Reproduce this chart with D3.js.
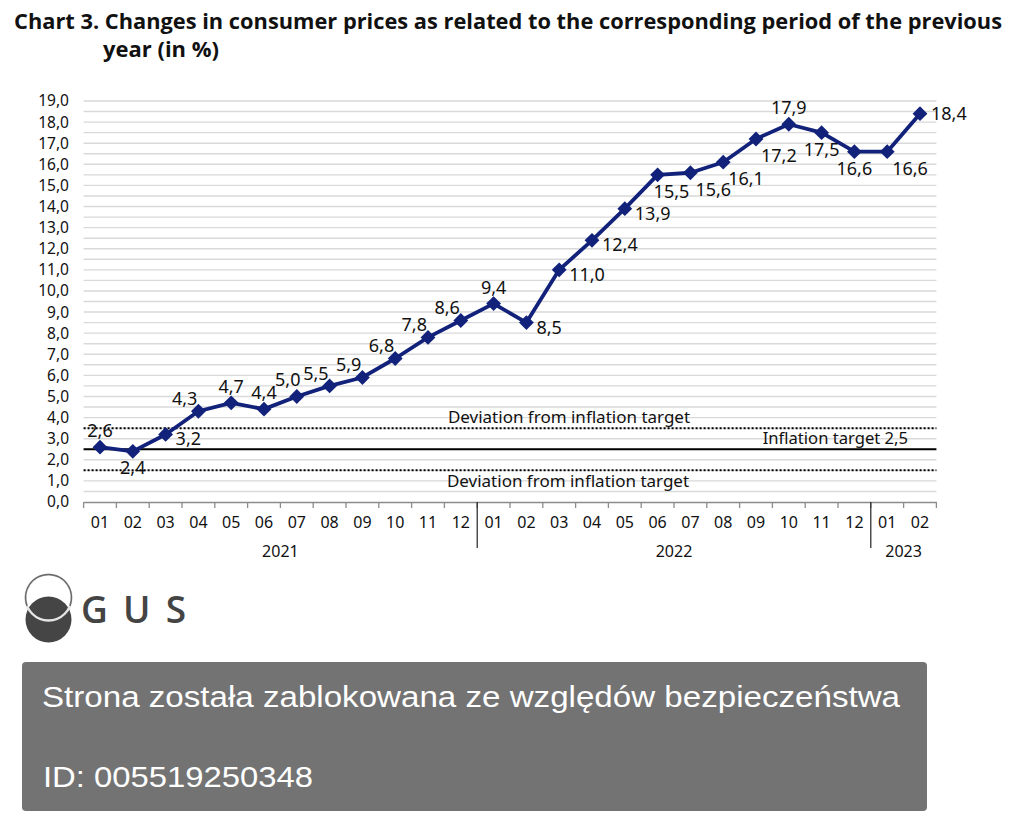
<!DOCTYPE html>
<html><head><meta charset="utf-8">
<script src="https://cdn.jsdelivr.net/npm/d3@7"></script>
<style>
html,body{margin:0;padding:0;background:#fff;}
svg{display:block;}
</style></head>
<body>
<svg id="chart" width="1009" height="826"></svg>
<script>
const months = ["01","02","03","04","05","06","07","08","09","10","11","12",
                "01","02","03","04","05","06","07","08","09","10","11","12",
                "01","02"];
const years = ["2021","2022","2023"];
const yearStart = [0, 12, 24];
const yearEnd = [11, 23, 25];
const cpi = [2.6,2.4,3.2,4.3,4.7,4.4,5.0,5.5,5.9,6.8,7.8,8.6,
             9.4,8.5,11.0,12.4,13.9,15.5,15.6,16.1,17.2,17.9,17.5,16.6,
             16.6,18.4];
const labelPos = ["above","below","right","aboveLeft","above","above","aboveL","aboveLeft","aboveLeft","aboveLeft","aboveLeft","aboveLeft",
                  "above","right","right","right","right","belowR0","belowRight","belowRight","belowRight","above","below","below",
                  "belowRight","rightMid"];
const yTicks = d3.range(0, 20, 1);
const gridTicks = d3.range(0.5, 19.01, 0.5);
const target = 2.5;
const deviationUpper = 3.5;
const deviationLower = 1.5;

const svg = d3.select("#chart");
const fmt = v => d3.format(".1f")(v).replace(".", ",");

// Title
svg.append("text").attr("x", 14).attr("y", 29)
  .attr("font-family", "'Open Sans', sans-serif").attr("font-weight", 700).attr("font-size", 21)
  .attr("fill", "#111").attr("textLength", 988).attr("lengthAdjust", "spacingAndGlyphs")
  .text("Chart 3. Changes in consumer prices as related to the corresponding period of the previous");
svg.append("text").attr("x", 103).attr("y", 57)
  .attr("font-family", "'Open Sans', sans-serif").attr("font-weight", 700).attr("font-size", 21)
  .attr("fill", "#111").attr("textLength", 116).attr("lengthAdjust", "spacingAndGlyphs")
  .text("year (in %)");

const x = d3.scaleBand().domain(d3.range(cpi.length)).range([83.6, 936.4]);
const y = d3.scaleLinear().domain([0, 19]).range([502, 101]);
const cx = i => x(i) + x.bandwidth() / 2;
const font = "'Noto Sans', 'Open Sans', sans-serif";

// gridlines
svg.append("g").selectAll("line").data(gridTicks).join("line")
  .attr("x1", 83.6).attr("x2", 936.4)
  .attr("y1", d => y(d)).attr("y2", d => y(d))
  .attr("stroke", "#d9d9d9").attr("stroke-width", 1.4);

// y axis labels
const yAxis = d3.axisLeft(y).tickValues(yTicks).tickFormat(fmt).tickSize(0).tickPadding(0);
const yg = svg.append("g").attr("transform", "translate(69,0)").call(yAxis);
yg.select(".domain").remove();
yg.selectAll("text").attr("font-family", font).attr("font-size", 15.5).attr("fill", "#111");

// x axis
const xAxis = d3.axisBottom(x).tickFormat(i => months[i]).tickSize(0).tickPadding(15);
const xg = svg.append("g").attr("transform", "translate(0,502)").call(xAxis);
xg.select(".domain").attr("stroke", "#8c8c8c").attr("stroke-width", 1.3);
xg.selectAll("text").attr("font-family", font).attr("font-size", 16).attr("fill", "#111");
// boundary ticks
const bounds = d3.range(cpi.length + 1).map(i => i < cpi.length ? x(i) : x(cpi.length - 1) + x.bandwidth());
svg.append("g").selectAll("line").data(bounds).join("line")
  .attr("x1", d => d).attr("x2", d => d).attr("y1", 502).attr("y2", 508)
  .attr("stroke", "#8c8c8c").attr("stroke-width", 1.3);
// year separators
svg.append("g").selectAll("line").data(yearStart.slice(1)).join("line")
  .attr("x1", d => x(d)).attr("x2", d => x(d)).attr("y1", 502).attr("y2", 548)
  .attr("stroke", "#222").attr("stroke-width", 1.2);
// year labels
svg.append("g").selectAll("text").data(years).join("text")
  .attr("x", (d, k) => (cx(yearStart[k]) + cx(yearEnd[k])) / 2)
  .attr("y", 557).attr("text-anchor", "middle")
  .attr("font-family", font).attr("font-size", 16).attr("fill", "#111").text(d => d);

// target & deviation lines
svg.append("line").attr("x1", 83.6).attr("x2", 936.4).attr("y1", y(target)).attr("y2", y(target))
  .attr("stroke", "#000").attr("stroke-width", 2.2);
[deviationUpper, deviationLower].forEach(v => {
  svg.append("line").attr("x1", 83.6).attr("x2", 936.4).attr("y1", y(v)).attr("y2", y(v))
    .attr("stroke", "#000").attr("stroke-width", 2).attr("stroke-dasharray", "2,2");
});
svg.append("text").attr("x", 569).attr("y", y(deviationUpper) - 5).attr("text-anchor", "middle")
  .attr("font-family", font).attr("font-size", 17).attr("fill", "#111").text("Deviation from inflation target");
svg.append("text").attr("x", 568).attr("y", y(deviationLower) + 17).attr("text-anchor", "middle")
  .attr("font-family", font).attr("font-size", 17).attr("fill", "#111").text("Deviation from inflation target");
svg.append("text").attr("x", 908).attr("y", y(target) - 5).attr("text-anchor", "end")
  .attr("font-family", font).attr("font-size", 16.6).attr("fill", "#111").text("Inflation target 2,5");

// series line
const navy = "#12227a";
svg.append("path").datum(cpi)
  .attr("d", d3.line().x((d, i) => cx(i)).y(d => y(d)))
  .attr("fill", "none").attr("stroke", navy).attr("stroke-width", 3.8).attr("stroke-linejoin", "round");
svg.append("g").selectAll("path").data(cpi).join("path")
  .attr("d", d3.symbol(d3.symbolDiamond2, 140))
  .attr("transform", (d, i) => `translate(${cx(i)},${y(d)})`)
  .attr("fill", navy);

// labels: [dx, baseline dy, anchor]
const off = {
  above: [0, -10, "middle"], below: [0, 23, "middle"], right: [10, 11, "start"],
  rightMid: [11, 6, "start"],
  belowRight: [5, 23, "start"], belowR0: [-4, 23, "start"],
  aboveLeft: [-1, -6, "end"], aboveL: [-9, -10, "middle"]
};
svg.append("g").selectAll("text").data(cpi).join("text")
  .attr("x", (d, i) => cx(i) + off[labelPos[i]][0])
  .attr("y", (d, i) => y(d) + off[labelPos[i]][1])
  .attr("text-anchor", (d, i) => off[labelPos[i]][2])
  .attr("font-family", font).attr("font-size", 18).attr("fill", "#111")
  .text(d => fmt(d));

// GUS logo
const logo = svg.append("g");
logo.append("circle").attr("cx", 48.5).attr("cy", 619.5).attr("r", 23).attr("fill", "#454545");
logo.append("circle").attr("cx", 48.5).attr("cy", 597.5).attr("r", 23)
  .attr("fill", "none").attr("stroke", "#e6e6e6").attr("stroke-width", 2.4);
logo.append("path")
  .attr("d", d3.arc()({innerRadius: 22.3, outerRadius: 23.7, startAngle: -Math.PI * 0.62, endAngle: Math.PI * 0.62}))
  .attr("transform", "translate(48.5,597.5)").attr("fill", "#6a6a6a");
logo.append("text").attr("x", 81).attr("y", 623).attr("font-family", "'Open Sans', sans-serif")
  .attr("font-weight", 600).attr("font-size", 37).attr("fill", "#444")
  .attr("textLength", 105).attr("lengthAdjust", "spacing").text("GUS");

// blocked box
svg.append("rect").attr("x", 22).attr("y", 662).attr("width", 905).attr("height", 149)
  .attr("rx", 4).attr("fill", "#737373");
svg.append("text").attr("x", 42).attr("y", 707).attr("font-family", "'Liberation Sans', Arial, sans-serif")
  .attr("font-size", 30).attr("fill", "#fff").attr("textLength", 858).attr("lengthAdjust", "spacingAndGlyphs")
  .text("Strona została zablokowana ze względów bezpieczeństwa");
svg.append("text").attr("x", 43).attr("y", 787).attr("font-family", "'Liberation Sans', Arial, sans-serif")
  .attr("font-size", 30).attr("fill", "#fff").attr("textLength", 270).attr("lengthAdjust", "spacingAndGlyphs")
  .text("ID: 005519250348");
</script>
</body></html>
